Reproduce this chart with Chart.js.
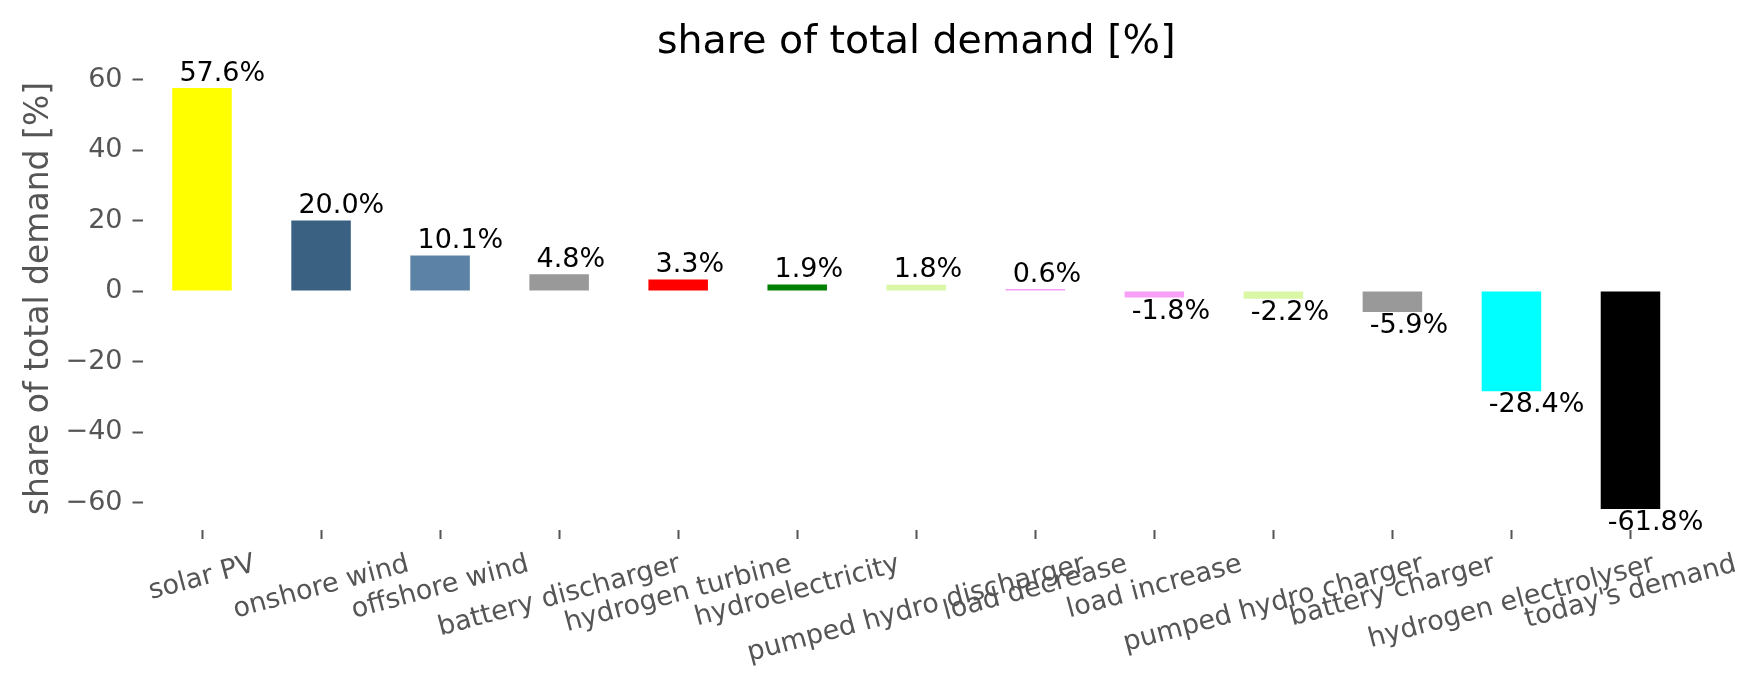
<!DOCTYPE html>
<html>
<head>
<meta charset="utf-8">
<script src="https://cdn.jsdelivr.net/npm/chart.js@4.4.1/dist/chart.umd.min.js"></script>
<style>
  html, body { margin: 0; padding: 0; background: #ffffff; }
  #wrap { width: 1764px; height: 689px; position: relative; }
</style>
</head>
<body>
<div id="wrap"><canvas id="shareChart"></canvas></div>
<script>
// Categories and values (share of total demand, %)
const categories = [
  'solar PV', 'onshore wind', 'offshore wind', 'battery discharger',
  'hydrogen turbine', 'hydroelectricity', 'pumped hydro discharger',
  'load decrease', 'load increase', 'pumped hydro charger',
  'battery charger', 'hydrogen electrolyser', "today's demand"
];
const shares = [57.6, 20.0, 10.1, 4.8, 3.3, 1.9, 1.8, 0.6, -1.8, -2.2, -5.9, -28.4, -61.8];
const barColors = [
  '#ffff00', '#3b6182', '#5c83a5', '#999999', '#ff0000', '#008000', '#daf7a6',
  '#f8a0f8', '#f8a0f8', '#daf7a6', '#999999', '#00ffff', '#000000'
];
const yTicks = [-60, -40, -20, 0, 20, 40, 60];

const chartTitle = 'share of total demand [%]';
const yTitle = 'share of total demand [%]';

const FONT = '"DejaVu Sans", "Liberation Sans", sans-serif';
const GREY = '#555555';
const TICK_SIZE = 27;

// Draws the title, y title, rotated category labels and value labels
const textPlugin = {
  id: 'textPlugin',
  afterDraw(chart) {
    const ctx = chart.ctx;
    const area = chart.chartArea;
    const xScale = chart.scales.x;
    ctx.save();

    // title
    ctx.fillStyle = '#000000';
    ctx.font = '39.5px ' + FONT;
    ctx.textAlign = 'center';
    ctx.textBaseline = 'alphabetic';
    ctx.fillText(chartTitle, (area.left + area.right) / 2, 53);

    // y axis title
    ctx.save();
    ctx.fillStyle = GREY;
    ctx.font = '33px ' + FONT;
    ctx.translate(48, (area.top + area.bottom) / 2);
    ctx.rotate(-Math.PI / 2);
    ctx.fillText(yTitle, 0, 0);
    ctx.restore();

    // category labels, rotated 15 deg and centred under each tick
    const theta = 15 * Math.PI / 180;
    const top = area.bottom + 21;
    ctx.fillStyle = GREY;
    ctx.font = TICK_SIZE + 'px ' + FONT;
    categories.forEach((label, i) => {
      const px = xScale.getPixelForTick(i);
      const w = ctx.measureText(label).width;
      const h = 0.968 * TICK_SIZE;
      const H = w * Math.sin(theta) + h * Math.cos(theta);
      ctx.save();
      ctx.translate(px, top + H / 2);
      ctx.rotate(-theta);
      ctx.textAlign = 'center';
      ctx.fillText(label, 0, 0.276 * TICK_SIZE);
      ctx.restore();
    });

    // value labels on the bars
    ctx.fillStyle = '#000000';
    ctx.textAlign = 'left';
    const bars = chart.getDatasetMeta(0).data;
    bars.forEach((bar, i) => {
      const v = shares[i];
      const x = bar.x - bar.width * 0.38;
      const y = v >= 0 ? bar.y - 0.27 * TICK_SIZE : bar.y + 0.78 * TICK_SIZE;
      ctx.fillText(v.toFixed(1) + '%', x, y);
    });

    ctx.restore();
  }
};

const ctx = document.getElementById('shareChart').getContext('2d');

new Chart(ctx, {
  type: 'bar',
  data: {
    labels: categories,
    datasets: [{
      label: 'share',
      data: shares,
      backgroundColor: barColors,
      borderWidth: 0,
      categoryPercentage: 0.5,
      barPercentage: 1.0
    }]
  },
  options: {
    responsive: true,
    maintainAspectRatio: false,
    animation: false,
    devicePixelRatio: 1,
    layout: { padding: { top: 67, right: 74, bottom: 0, left: 0 } },
    scales: {
      x: {
        offset: true,
        border: { display: false },
        grid: { offset: false, drawOnChartArea: false, drawTicks: true, tickLength: 9, tickWidth: 2, tickColor: GREY },
        ticks: { display: false },
        afterFit: function (scale) { scale.height = 159; }
      },
      y: {
        min: -67.77,
        max: 63.57,
        border: { display: false },
        grid: { drawOnChartArea: false, drawTicks: true, tickLength: 10, tickWidth: 2, tickColor: GREY },
        afterBuildTicks: function (scale) {
          scale.ticks = yTicks.map(v => ({ value: v }));
        },
        ticks: {
          padding: 10,
          color: GREY,
          font: { family: FONT, size: TICK_SIZE },
          callback: function (value) {
            return value < 0 ? '\u2212' + Math.abs(value) : String(value);
          }
        },
        afterFit: function (scale) { scale.width = 142.5; }
      }
    },
    plugins: {
      legend: { display: false },
      tooltip: { enabled: false },
      title: { display: false }
    }
  },
  plugins: [textPlugin]
});
</script>
</body>
</html>
